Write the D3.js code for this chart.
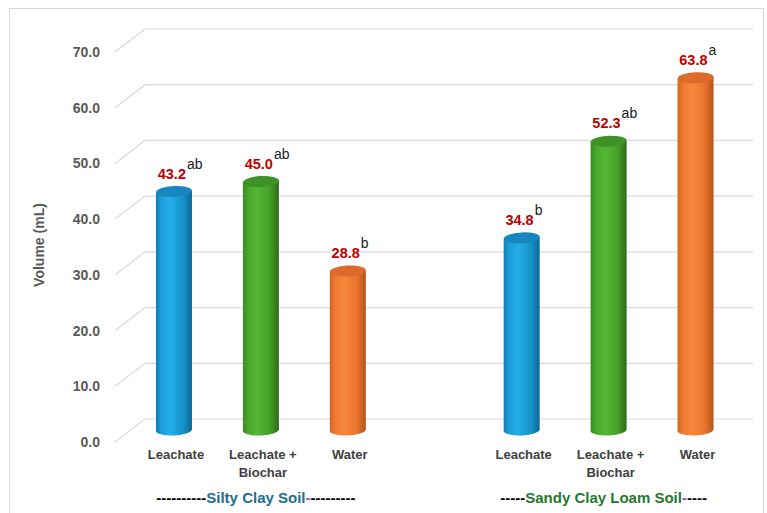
<!DOCTYPE html>
<html>
<head>
<meta charset="utf-8">
<script src="https://cdn.jsdelivr.net/npm/d3@7"></script>
<style>
  html, body { margin: 0; padding: 0; background: #ffffff; }
  svg { display: block; font-family: "Liberation Sans", Arial, sans-serif; }
</style>
</head>
<body>
<svg id="chart" width="767" height="513"></svg>
<script>
// Soil groups and treatments
const soils = ["Silty Clay Soil", "Sandy Clay Loam Soil"];
const treatments = ["Leachate", "Leachate + Biochar", "Water"];
const treatmentLines = [["Leachate"], ["Leachate +", "Biochar"], ["Water"]];

// Leachate volume (mL) per treatment, one array per soil
const siltyVolume = [43.2, 45.0, 28.8];
const sandyVolume = [34.8, 52.3, 63.8];

// Significance letters per treatment
const siltyLetters = ["ab", "ab", "b"];
const sandyLetters = ["b", "ab", "a"];

// Axis ticks
const yTicks = [0, 10, 20, 30, 40, 50, 60, 70];
const yTickLabels = ["0.0", "10.0", "20.0", "30.0", "40.0", "50.0", "60.0", "70.0"];

const groupTitleColors = ["#1b6f8f", "#1f7a2e"];
const barColors = {
  "Leachate": { top: "#1786bf", stops: ["#137cb2", "#1c9fd8", "#23ade7", "#1793ca", "#0c6797"] },
  "Leachate + Biochar": { top: "#3f9226", stops: ["#3b8a21", "#49a72b", "#55b634", "#45a029", "#2a6c15"] },
  "Water": { top: "#dd6a29", stops: ["#d6631f", "#f17a33", "#f7883e", "#eb742d", "#b2541a"] }
};

const rows = [];
soils.forEach((soil, si) => {
  const vals = si === 0 ? siltyVolume : sandyVolume;
  const letters = si === 0 ? siltyLetters : sandyLetters;
  treatments.forEach((t, ti) => {
    rows.push({ key: soil + "|" + t, soil, si, treatment: t, ti, value: vals[ti], letter: letters[ti] });
  });
});

const slots = [...rows.slice(0, 3).map(d => d.key), "gap", ...rows.slice(3).map(d => d.key)];

const svg = d3.select("#chart");

// Outer chart frame
svg.append("rect")
  .attr("x", 9.5).attr("y", 8.5)
  .attr("width", 754).attr("height", 520)
  .attr("fill", "#ffffff").attr("stroke", "#d9d9d9").attr("stroke-width", 1);

const x = d3.scaleBand().domain(slots).range([130.5, 739]);
// Back wall gridlines, front tick labels, and bars use their own depth planes
const yBack = d3.scaleLinear().domain([0, 70]).range([419, 29]);
const yFront = d3.scaleLinear().domain([0, 70]).range([442, 52]);
const yBar = d3.scaleLinear().domain([0, 70]).range([430, 43.6]);

// Gridlines with perspective side wall
const grid = svg.append("g");
yTicks.forEach(v => {
  grid.append("path")
    .attr("d", `M115,${yFront(v)} L145,${yBack(v)} L753,${yBack(v)}`)
    .attr("fill", "none").attr("stroke", "#d9d9d9").attr("stroke-width", 1.2);
});

// Y tick labels
svg.append("g").selectAll("text")
  .data(yTicks)
  .join("text")
  .attr("x", 100).attr("y", d => yFront(d) + 5)
  .attr("text-anchor", "end")
  .attr("font-size", 14).attr("font-weight", "bold").attr("fill", "#595959")
  .text((d, i) => yTickLabels[i]);

// Y axis title
svg.append("text")
  .attr("transform", "translate(44,245) rotate(-90)")
  .attr("text-anchor", "middle")
  .attr("font-size", 14).attr("font-weight", "bold").attr("fill", "#595959")
  .text("Volume (mL)");

// Cylinder gradients
const defs = svg.append("defs");
treatments.forEach((t, i) => {
  const g = defs.append("linearGradient").attr("id", "cyl" + i)
    .attr("x1", "0%").attr("x2", "100%").attr("y1", "0%").attr("y2", "0%");
  const offs = [0, 0.15, 0.4, 0.75, 1];
  barColors[t].stops.forEach((c, k) => g.append("stop").attr("offset", offs[k]).attr("stop-color", c));
});

const bw = 36, ry = 5.5;
const bars = svg.append("g").selectAll("g").data(rows).join("g");
bars.each(function(d) {
  const g = d3.select(this);
  const cx = x(d.key) + x.bandwidth() / 2;
  const yt = yBar(d.value), yb = yBar(0);
  const fill = `url(#cyl${d.ti})`;
  // body with rounded bottom
  g.append("path")
    .attr("d", `M${cx - bw / 2},${yt + 1} L${cx - bw / 2},${yb + 1} A${bw / 2},${ry} -3 0 0 ${cx + bw / 2},${yb - 1} L${cx + bw / 2},${yt - 1} Z`)
    .attr("fill", fill);
  // top cap
  g.append("ellipse")
    .attr("cx", cx).attr("cy", yt).attr("rx", bw / 2).attr("ry", ry)
    .attr("fill", barColors[d.treatment].top)
    .attr("transform", `rotate(-3,${cx},${yt})`);

  // value label and letter
  g.append("text")
    .attr("x", cx + 12).attr("y", yt - 13)
    .attr("text-anchor", "end")
    .attr("font-size", 14.5).attr("font-weight", "bold").attr("fill", "#c00000")
    .text(d.value.toFixed(1));
  g.append("text")
    .attr("x", cx + 13).attr("y", yt - 23)
    .attr("font-size", 14).attr("fill", "#1a1a1a")
    .text(d.letter);

  // category label
  const lines = treatmentLines[d.ti];
  const lbl = g.append("text")
    .attr("x", cx + 2).attr("y", 459)
    .attr("text-anchor", "middle")
    .attr("font-size", 13).attr("font-weight", "bold").attr("fill", "#404040");
  lines.forEach((ln, k) => {
    lbl.append("tspan").attr("x", cx + 2).attr("dy", k === 0 ? 0 : 18).text(ln);
  });
});

// Soil group titles
const dashCount = [10, 5];
soils.forEach((soil, si) => {
  const keys = rows.filter(r => r.si === si).map(r => x(r.key) + x.bandwidth() / 2);
  const cx = d3.mean(keys) - 5;
  const t = svg.append("text")
    .attr("x", cx).attr("y", 503)
    .attr("text-anchor", "middle")
    .attr("font-size", 15).attr("font-weight", "bold");
  const dashes = "-".repeat(dashCount[si]);
  t.append("tspan").attr("fill", "#000000").text(dashes);
  t.append("tspan").attr("fill", groupTitleColors[si]).text(soil);
  t.append("tspan").attr("fill", "#b0479f").text("-");
  t.append("tspan").attr("fill", "#000000").text(dashes.slice(1));
});
</script>
</body>
</html>
